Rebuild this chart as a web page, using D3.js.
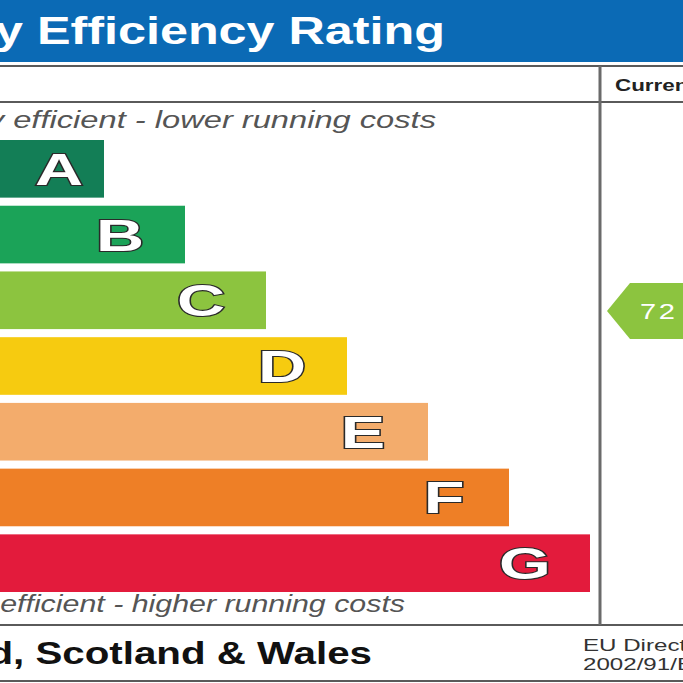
<!DOCTYPE html>
<html>
<head>
<meta charset="utf-8">
<script src="https://cdn.jsdelivr.net/npm/d3@7"></script>
<style>
  body { margin: 0; background: #fff; }
  svg { display: block; }
</style>
</head>
<body>
<div id="chart"></div>
<script>
const width = 683;
const height = 683;

// rating bands, top (best) to bottom (worst)
const bands = ['A', 'B', 'C', 'D', 'E', 'F', 'G'];
const bandLower = [92, 81, 69, 55, 39, 21, 1];
const bandUpper = [100, 91, 80, 68, 54, 38, 20];
const bandLength = [1, 2, 3, 4, 5, 6, 7];
const bandColors = ['#137e56', '#1ba358', '#8cc43f', '#f6cb10', '#f3ac6c', '#ee7f26', '#e31b3c'];
const currentRating = 72;

const svg = d3.select('#chart')
    .append('svg')
    .attr('width', width)
    .attr('height', height);

const font = 'Liberation Sans, Arial, sans-serif';

// the source picture is stretched sideways, so text is widened too
function wideText(parent, x, y, txt, size, opts) {
    const o = opts || {};
    return parent.append('g')
        .attr('transform', `translate(${x},${y}) scale(${o.sx || 1.3},1)`)
        .append('text')
        .text(txt)
        .style('font-family', font)
        .style('font-size', size + 'px')
        .style('font-weight', o.weight || 'normal')
        .style('font-style', o.italic ? 'italic' : 'normal')
        .style('text-anchor', o.anchor || 'start')
        .attr('fill', o.fill || '#000');
}

// header
svg.append('rect')
    .attr('x', 0).attr('y', 0)
    .attr('width', width).attr('height', 62)
    .attr('fill', '#0b6ab5');

wideText(svg, 445, 44, 'Energy Efficiency Rating', 39,
    { weight: 'bold', anchor: 'end', fill: '#fff', sx: 1.29 });

// table lines
const lineColor = '#5a5a5a';
const hLines = [66, 102, 625, 681];
svg.selectAll('line.h')
    .data(hLines)
    .enter()
    .append('line')
    .attr('class', 'h')
    .attr('x1', 0).attr('x2', width)
    .attr('y1', (d) => d).attr('y2', (d) => d)
    .attr('stroke', lineColor)
    .attr('stroke-width', 2);

svg.append('line')
    .attr('x1', 600).attr('x2', 600)
    .attr('y1', 66).attr('y2', 625)
    .attr('stroke', '#6a6a6a')
    .attr('stroke-width', 3);

wideText(svg, 615, 91, 'Current', 16, { weight: 'bold', fill: '#222', sx: 1.4 });

// bars
const y = d3.scaleBand()
    .domain(bands)
    .range([140, 592])
    .paddingInner(0.123)
    .paddingOuter(0);

const x = d3.scaleLinear()
    .domain([0, 7])
    .range([23, 590]);

const barLeft = -80;

const bars = svg.append('g');

bars.selectAll('rect')
    .data(bands)
    .enter()
    .append('rect')
    .attr('x', barLeft)
    .attr('y', (d) => y(d))
    .attr('width', (d, i) => x(bandLength[i]) - barLeft)
    .attr('height', y.bandwidth())
    .attr('fill', (d, i) => bandColors[i]);

bars.selectAll('g.letter')
    .data(bands)
    .enter()
    .append('g')
    .attr('class', 'letter')
    .attr('transform', (d, i) => {
        const cx = x(bandLength[i]) - (i === 0 ? 45 : 65);
        return `translate(${cx},${y(d) + y.bandwidth() / 2 + 16}) scale(1.48,1)`;
    })
    .append('text')
    .text((d) => d)
    .style('font-family', font)
    .style('font-weight', 'bold')
    .style('font-size', '45px')
    .style('text-anchor', 'middle')
    .attr('fill', '#fff')
    .attr('stroke', '#2a2a2a')
    .attr('stroke-width', 2.2)
    .attr('paint-order', 'stroke');

// captions
wideText(svg, 436, 128, 'Very energy efficient - lower running costs', 23,
    { italic: true, anchor: 'end', fill: '#555', sx: 1.42 });

wideText(svg, 405, 612, 'Not energy efficient - higher running costs', 23,
    { italic: true, anchor: 'end', fill: '#555', sx: 1.32 });

// current rating arrow, placed by score within its band
const bi = bandLower.findIndex((lo, i) => currentRating >= lo && currentRating <= bandUpper[i]);
const scoreY = d3.scaleLinear()
    .domain([bandUpper[bi], bandLower[bi] - 1])
    .range([y(bands[bi]), y(bands[bi]) + y.bandwidth()]);
const cy = scoreY(currentRating) + 1;
const halfH = 28;
const tipX = 607;
const bodyX = 630;

svg.append('path')
    .attr('d', `M${tipX},${cy} L${bodyX},${cy - halfH} L${width + 10},${cy - halfH} L${width + 10},${cy + halfH} L${bodyX},${cy + halfH} Z`)
    .attr('fill', bandColors[bi]);

wideText(svg, 640, cy + 8, String(currentRating), 22, { fill: '#fff', sx: 1.32 })
    .style('letter-spacing', '2px');

// footer
wideText(svg, 372, 664, 'England, Scotland & Wales', 32,
    { weight: 'bold', anchor: 'end', fill: '#111', sx: 1.26 });

wideText(svg, 583, 651, 'EU Directive', 17, { fill: '#333', sx: 1.42 });
wideText(svg, 583, 670, '2002/91/EC', 17, { fill: '#333', sx: 1.42 });
</script>
</body>
</html>
